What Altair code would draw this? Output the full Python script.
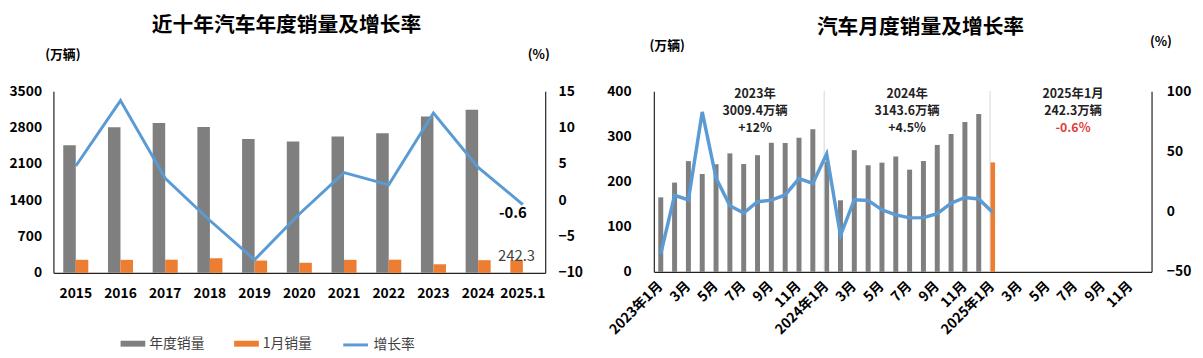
import altair as alt
import pandas as pd

FONT = "Noto Sans CJK SC"
GRAY = "#7f7f7f"
ORANGE = "#ed7d31"
BLUE = "#5b9bd5"

# ---------------- data: left chart (annual) ----------------
years = ["2015", "2016", "2017", "2018", "2019", "2020", "2021", "2022", "2023", "2024", "2025.1"]
annual_sales = [2459.8, 2802.8, 2887.9, 2808.1, 2576.9, 2531.1, 2627.5, 2686.4, 3009.4, 3143.6, None]
jan_sales = [250.7, 250.1, 252.8, 280.9, 236.7, 194.1, 250.3, 253.1, 164.9, 243.9, 242.3]
annual_growth = [4.7, 13.7, 3.0, -2.8, -8.2, -1.9, 3.8, 2.1, 12.0, 4.5, -0.6]
series_names = ["年度销量", "1月销量"]
growth_name = "增长率"

# ---------------- data: right chart (monthly) ----------------
months = [f"{y}年{m}月" for y in (2023, 2024, 2025) for m in range(1, 13)]
monthly_sales = [164.9, 197.6, 245.1, 216.6, 238.2, 262.2, 238.7, 258.2, 285.8, 285.3, 297.0, 315.6,
                 243.9, 158.4, 269.4, 235.9, 241.7, 255.3, 226.2, 245.3, 280.9, 305.3, 331.6, 349.6,
                 242.3]
monthly_growth = [-35.0, 13.5, 9.7, 82.7, 27.9, 4.8, -1.2, 8.2, 9.5, 13.8, 27.4, 23.5,
                  47.9, -19.9, 9.9, 9.3, 1.5, -2.7, -5.2, -5.0, -1.7, 7.0, 11.7, 10.5,
                  -0.6]
separator_months = ["2024年1月", "2025年1月"]
ann_months = ["2023年8月", "2024年7月", "2025年7月"]
ann_line1 = ["2023年", "2024年", "2025年1月"]
ann_line2 = ["3009.4万辆", "3143.6万辆", "242.3万辆"]
ann_line3 = ["+12%", "+4.5%", "-0.6%"]
ann_line3_red = [False, False, True]

# ---------------- tables ----------------
bar_rows = []
for i, yr in enumerate(years):
    if annual_sales[i] is not None:
        bar_rows.append({"year": yr, "value": annual_sales[i], "series": series_names[0], "slot": "a", "label": ""})
    last = yr == years[-1]
    bar_rows.append({"year": yr, "value": jan_sales[i], "series": series_names[1],
                     "slot": "a" if annual_sales[i] is None else "b",
                     "label": f"{jan_sales[i]}" if last else ""})
bars_df = pd.DataFrame(bar_rows)
line_df = pd.DataFrame({"year": years, "growth": annual_growth, "name": growth_name,
                        "label": ["" for _ in years[:-1]] + [f"{annual_growth[-1]}"]})

m_rows = []
for i, m in enumerate(months[:len(monthly_sales)]):
    m_rows.append({"month": m, "sales": monthly_sales[i], "growth": monthly_growth[i],
                   "series": series_names[1] if m.startswith("2025") else series_names[0]})
month_df = pd.DataFrame(m_rows)
sep_df = pd.DataFrame({"month": separator_months})
ann_df = pd.DataFrame({"month": ann_months, "l1": ann_line1, "l2": ann_line2, "l3": ann_line3,
                       "red": ann_line3_red})

# ---------------- left chart ----------------
LW, LH = 498, 184
x_left = alt.X("year:N", sort=years,
               scale=alt.Scale(domain=years, paddingInner=0.44, paddingOuter=0.22),
               axis=alt.Axis(title=None, labelAngle=0, labelFontSize=14, labelFontWeight="bold",
                             labelColor="#000", labelPadding=14, ticks=False, domainColor="#222",
                             domainWidth=1.2))
xoff = alt.XOffset("slot:N", scale=alt.Scale(domain=["a", "b"], paddingInner=0, paddingOuter=0))
y_left = alt.Y("value:Q", scale=alt.Scale(domain=[0, 3500], nice=False),
               axis=alt.Axis(values=[0, 700, 1400, 2100, 2800, 3500], format="d", title="(万辆)",
                             titleAngle=0, titleX=9, titleY=-37, titleAlign="center",
                             titleBaseline="middle", titleFontSize=13, titleFontWeight="bold",
                             titleColor="#000", labelFontSize=14, labelFontWeight="bold",
                             labelColor="#000", labelPadding=12, ticks=False, grid=False,
                             domainColor="#222", domainWidth=1.2))
color_left = alt.Color("series:N", scale=alt.Scale(domain=series_names, range=[GRAY, ORANGE]),
                       legend=alt.Legend(title=None, orient="none", direction="horizontal",
                                         legendX=68, legendY=243,
                                         symbolType="M-1,-0.24H1V0.24H-1Z", symbolSize=625,
                                         symbolOpacity=1, symbolStrokeWidth=0,
                                         labelFontSize=14, labelColor="#404040", labelOffset=4,
                                         columnPadding=30))
bars = alt.Chart(bars_df).mark_bar().encode(x=x_left, xOffset=xoff, y=y_left, color=color_left)
bar_text = alt.Chart(bars_df).transform_filter(alt.datum.label != "").mark_text(
    fontSize=15, color="#404040", baseline="middle", dy=-4
).encode(x=x_left, xOffset=xoff, y=y_left, text="label:N")

y_growth = alt.Y("growth:Q", scale=alt.Scale(domain=[-10, 15], nice=False),
                 axis=alt.Axis(orient="right", values=[-10, -5, 0, 5, 10, 15], title="(%)", titleAngle=0,
                               titleX=-7, titleY=-37, titleAlign="center", titleBaseline="middle",
                               titleFontSize=13, titleFontWeight="bold", titleColor="#000",
                               labelFontSize=14, labelFontWeight="bold", labelColor="#000",
                               labelPadding=13, ticks=False, grid=False, domainColor="#222",
                               domainWidth=1.2))
stroke_left = alt.Stroke("name:N", scale=alt.Scale(domain=[growth_name], range=[BLUE]),
                         legend=alt.Legend(title=None, orient="none", legendX=292, legendY=243,
                                           symbolType="stroke", symbolSize=625, symbolStrokeWidth=3,
                                           labelFontSize=14, labelColor="#404040", labelOffset=4))
line = alt.Chart(line_df).mark_line(strokeWidth=3).encode(x=x_left, y=y_growth, stroke=stroke_left)
line_text = alt.Chart(line_df).transform_filter(alt.datum.label != "").mark_text(
    fontSize=15, fontWeight="bold", color="#000", dx=-10, dy=9
).encode(x=x_left, y=y_growth, text="label:N")

left = alt.layer(alt.layer(bars, bar_text), alt.layer(line, line_text)).resolve_scale(
    y="independent").properties(
    width=LW, height=LH,
    title=alt.TitleParams("近十年汽车年度销量及增长率", fontSize=21, fontWeight="bold", color="#000",
                          anchor="middle", dx=-13, offset=13))

# ---------------- right chart ----------------
RW, RH = 504, 183
label_expr = ("parseInt(split(datum.value,'年')[1]) % 2 == 0 ? '' : "
              "(parseInt(split(datum.value,'年')[1]) == 1 ? datum.value : split(datum.value,'年')[1])")
x_scale_r = alt.Scale(domain=months, paddingInner=0.64, paddingOuter=0.32)
x_axis_r = alt.Axis(title=None, labelAngle=-45, labelAlign="right", labelBaseline="middle",
                    labelExpr=label_expr, labelOverlap=False, labelFontSize=14, labelFontWeight="bold",
                    labelColor="#000", labelPadding=12, ticks=False, domainColor="#222", domainWidth=1.2)
x_right = alt.X("month:N", scale=x_scale_r, axis=x_axis_r)
x_edge = alt.X("month:N", scale=x_scale_r, axis=x_axis_r, bandPosition=0)
y_sales = alt.Y("sales:Q", scale=alt.Scale(domain=[0, 400], nice=False),
                axis=alt.Axis(values=[0, 100, 200, 300, 400], title="(万辆)", titleAngle=0,
                              titleX=13, titleY=-46, titleAlign="center", titleBaseline="middle",
                              titleFontSize=13, titleFontWeight="bold", titleColor="#000",
                              labelFontSize=14, labelFontWeight="bold", labelColor="#000",
                              labelPadding=23, ticks=False, grid=False, domainColor="#222",
                              domainWidth=1.2))
color_right = alt.Color("series:N", scale=alt.Scale(domain=series_names, range=[GRAY, ORANGE]), legend=None)
mbars = alt.Chart(month_df).mark_bar().encode(x=x_right, y=y_sales, color=color_right)
seps = alt.Chart(sep_df).mark_rule(color="#cfd4d9", strokeWidth=1).encode(x=x_edge)

ann_base = alt.Chart(ann_df).mark_text(fontSize=12.5, fontWeight="bold", color="#222", baseline="middle",
                                       align="center")
ann1 = ann_base.encode(x=x_edge, y=alt.value(3), text="l1:N")
ann2 = ann_base.encode(x=x_edge, y=alt.value(20), text="l2:N")
ann3 = ann_base.encode(
    x=x_edge, y=alt.value(37), text="l3:N",
    color=alt.condition(alt.datum.red, alt.value("#e0403a"), alt.value("#222")))
y_mgrowth = alt.Y("growth:Q", scale=alt.Scale(domain=[-50, 100], nice=False),
                  axis=alt.Axis(orient="right", values=[-50, 0, 50, 100], title="(%)", titleAngle=0,
                                titleX=9, titleY=-50, titleAlign="center", titleBaseline="middle",
                                titleFontSize=13, titleFontWeight="bold", titleColor="#000",
                                labelFontSize=14, labelFontWeight="bold", labelColor="#000",
                                labelPadding=15, ticks=False, grid=False, domainColor="#222",
                                domainWidth=1.2))
mline = alt.Chart(month_df).mark_line(strokeWidth=3.5, color=BLUE).encode(x=x_right, y=y_mgrowth)

right = alt.layer(alt.layer(mbars, seps, ann1, ann2, ann3), mline).resolve_scale(y="independent").properties(
    width=RW, height=RH,
    title=alt.TitleParams("汽车月度销量及增长率", fontSize=21, fontWeight="bold", color="#000",
                          anchor="middle", dx=18, offset=-2))

chart = alt.hconcat(left, right, spacing=24).resolve_scale(color="independent", stroke="independent").properties(
    padding={"left": 0, "top": 5, "right": 4, "bottom": 0}
).configure_view(stroke=None).configure_axis(
    labelFont=FONT, titleFont=FONT
).configure_legend(labelFont=FONT).configure_title(font=FONT).configure_text(font=FONT)

chart.save("out.html", embed_options={"renderer": "svg", "actions": False})
